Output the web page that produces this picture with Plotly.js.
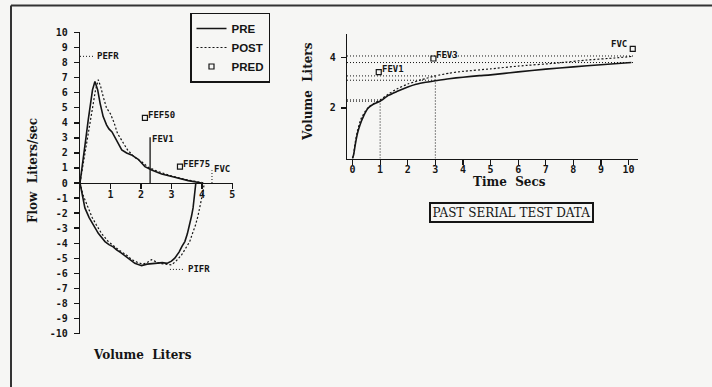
<!DOCTYPE html>
<html><head><meta charset="utf-8">
<script src="https://cdn.plot.ly/plotly-3.0.1.min.js"></script>
<style>html,body{margin:0;padding:0;background:#f6f6f4}#chart{width:712px;height:387px}</style>
</head><body><div id="chart"></div>
<script>
// ---------- Flow-volume loop (Volume L, Flow L/s) ----------
const preExpVol   = [0,0.05,0.13,0.2,0.27,0.34,0.41,0.49,0.58,0.66,0.76,0.87,0.95,1.05,1.13,1.2,1.37,1.53,1.69,1.91,2.13,2.35,2.68,3.11,3.55,3.99];
const preExpFlow  = [0,0.87,1.98,3.09,4.2,5.3,6.2,6.76,6.2,5.3,4.42,3.87,3.6,3.4,3.09,2.76,2.2,2.0,1.87,1.58,1.09,0.87,0.6,0.38,0.16,0];
const preInspVol  = [0,0.05,0.16,0.3,0.43,0.6,0.82,0.95,1.09,1.2,1.35,1.48,1.65,1.8,2.02,2.2,2.46,2.7,2.85,3.0,3.11,3.25,3.35,3.44,3.52,3.6,3.66,3.71,3.75,3.79,3.8];
const preInspFlow = [0,-0.6,-1.66,-2.3,-2.8,-3.35,-3.9,-4.1,-4.25,-4.45,-4.65,-4.85,-5.1,-5.35,-5.5,-5.4,-5.35,-5.3,-5.35,-5.2,-5.0,-4.6,-4.2,-3.9,-3.4,-2.8,-2.2,-1.66,-1.0,-0.1,0];
const postExpVol   = [0,0.07,0.16,0.25,0.35,0.44,0.51,0.6,0.68,0.76,0.87,1.0,1.12,1.23,1.4,1.56,1.8,2.02,2.24,2.57,3.0,3.44,3.88,4.1];
const postExpFlow  = [0,0.87,1.98,3.09,4.2,5.3,6.2,6.87,6.4,5.75,5.0,4.6,4.0,3.3,2.75,2.2,1.7,1.42,1.04,0.76,0.47,0.24,0.07,0];
const postInspVol  = [0,0.1,0.27,0.4,0.54,0.72,0.93,1.1,1.3,1.53,1.7,1.9,2.05,2.2,2.35,2.45,2.6,2.8,3.0,3.15,3.33,3.45,3.6,3.7,3.79,3.87,3.93,3.98,4.04,4.07,4.08];
const postInspFlow = [0,-0.8,-1.66,-2.3,-2.8,-3.4,-3.9,-4.2,-4.5,-4.8,-5.1,-5.3,-5.4,-5.3,-5.1,-5.2,-5.35,-5.4,-5.45,-5.2,-4.8,-4.4,-3.9,-3.3,-2.8,-2.2,-1.66,-1.1,-0.55,-0.1,0];
// predicted / measured reference points on the loop
const predLoopVol  = [2.13, 3.28];          // FEF50, FEF75 predicted
const predLoopFlow = [4.33, 1.09];
const pefrPred = 8.43, pefrVolEnd = 0.45;
const pifrPred = -5.75, pifrVol = [2.95, 3.44];
const fvcPredVol = 4.33, fvcPredFlow = 0.85;
const fev1Vol = 2.3, fev1Flow = 3.05;
const loopFlowTicks = [10,9,8,7,6,5,4,3,2,1,0,-1,-2,-3,-4,-5,-6,-7,-8,-9,-10];
const loopFlowTickText = ['10','9','8','7','6','5','4','3','2','1','0','-1','-2','-3','-4','-5','-6','-7','-8','-9','-10'];
const loopVolTicks = [1,2,3,4,5];

// ---------- Volume-time curve (Time s, Volume L) ----------
const preTime  = [0,0.04,0.1,0.18,0.27,0.4,0.56,0.75,1.0,1.3,1.6,2.0,2.3,2.6,3.0,3.5,4.0,4.6,5.0,6.0,7.0,8.0,9.0,10.1];
const preVol   = [0,0.15,0.55,1.0,1.33,1.68,1.99,2.15,2.27,2.5,2.65,2.83,2.94,3.01,3.08,3.16,3.22,3.28,3.31,3.43,3.54,3.63,3.71,3.8];
const postTime = [0,0.04,0.1,0.18,0.3,0.45,0.6,0.8,1.0,1.3,1.6,2.0,2.5,3.0,3.5,4.0,5.0,6.0,7.4,8.5,9.5,10.1];
const postVol  = [0,0.2,0.65,1.1,1.55,1.85,2.05,2.2,2.32,2.55,2.75,2.95,3.12,3.27,3.38,3.45,3.55,3.66,3.78,3.9,3.98,4.04];
const fvcPre = 3.8, fvcPost = 4.06, fvcLineEnd = 10.2;
const fev3Pre = 3.1, fev3Post = 3.27;
const fev1Pre = 2.27, fev1Post = 2.32;
const predTime = [0.95, 2.93, 10.15];       // FEV1, FEV3, FVC predicted
const predVol  = [3.42, 3.96, 4.34];
const timeTicks = [0,1,2,3,4,5,6,7,8,9,10];
const volTicks = [2,4];

const K = '#151515';
const mono = "'Liberation Mono','DejaVu Sans Mono',monospace";
const serif = "'DejaVu Serif','Liberation Serif',serif";
const tickMono = "'DejaVu Sans Mono',monospace";
const preLine = {color:K, width:1.6};
const postLine = {color:K, width:1.2, dash:'2px,2px'};
const preLineS = {color:K, width:1.6, shape:'spline', smoothing:0.5};
const postLineS = {color:K, width:1.2, dash:'2px,2px', shape:'spline', smoothing:0.5};
const refDot = {color:K, width:1, dash:'1px,2px'};

function ln(x, y, line, xa, ya) {
  return {x:x, y:y, mode:'lines', line:line, xaxis:xa, yaxis:ya, showlegend:false, hoverinfo:'skip'};
}

const traces = [
  {x:preExpVol, y:preExpFlow, mode:'lines', name:'PRE', legendgroup:'pre', line:preLine, xaxis:'x', yaxis:'y'},
  {x:postExpVol, y:postExpFlow, mode:'lines', name:'POST', legendgroup:'post', line:postLine, xaxis:'x', yaxis:'y'},
  {x:predLoopVol, y:predLoopFlow, mode:'markers', name:'PRED', legendgroup:'pred',
   marker:{symbol:'square-open', size:5, color:K, line:{width:1.2, color:K}}, xaxis:'x', yaxis:'y'},
  ln(preInspVol, preInspFlow, preLine, 'x', 'y'),
  ln(postInspVol, postInspFlow, postLine, 'x', 'y'),
  ln([0, pefrVolEnd], [pefrPred, pefrPred], refDot, 'x', 'y'),
  ln(pifrVol, [pifrPred, pifrPred], refDot, 'x', 'y'),
  ln([fvcPredVol, fvcPredVol], [0, fvcPredFlow], refDot, 'x', 'y'),
  ln([fev1Vol, fev1Vol], [0, fev1Flow], {color:K, width:1.3}, 'x', 'y'),
  // volume-time
  ln(preTime, preVol, preLineS, 'x2', 'y2'),
  ln(postTime, postVol, postLineS, 'x2', 'y2'),
  ln([-0.2, fvcLineEnd], [fvcPre, fvcPre], refDot, 'x2', 'y2'),
  ln([-0.2, fvcLineEnd], [fvcPost, fvcPost], refDot, 'x2', 'y2'),
  ln([-0.2, 3], [fev3Pre, fev3Pre], refDot, 'x2', 'y2'),
  ln([-0.2, 3], [fev3Post, fev3Post], refDot, 'x2', 'y2'),
  ln([-0.2, 1], [fev1Pre, fev1Pre], refDot, 'x2', 'y2'),
  ln([-0.2, 1], [fev1Post, fev1Post], refDot, 'x2', 'y2'),
  ln([1, 1], [0, fev1Post], refDot, 'x2', 'y2'),
  ln([3, 3], [0, fev3Post], refDot, 'x2', 'y2'),
  {x:predTime, y:predVol, mode:'markers', legendgroup:'pred', showlegend:false,
   marker:{symbol:'square-open', size:5, color:K, line:{width:1.2, color:K}}, xaxis:'x2', yaxis:'y2'}
];

const tickFont = {family:tickMono, size:10, color:K, weight:700};
const lblFont = {family:tickMono, size:9, color:K, weight:700};
const titleFont = {family:serif, size:12, color:K, weight:700};

const ax = {showgrid:false, zeroline:false, showline:true, linecolor:K, linewidth:1.3,
            ticks:'outside', ticklen:5, tickwidth:1.2, tickcolor:K, tickfont:tickFont, fixedrange:true};

function lbl(text, x, y, xref, yref, xa, ya, xs, ys) {
  return {text:text, x:x, y:y, xref:xref, yref:yref, xanchor:xa, yanchor:ya, showarrow:false, font:lblFont, xshift:xs, yshift:ys};
}
function ttl(text, px, py, angle) {
  return {text:text, x:px/712, y:1-py/387, xref:'paper', yref:'paper', xanchor:'center', yanchor:'middle',
          textangle:angle, showarrow:false, font:titleFont};
}

const annotations = [
  lbl('PEFR', pefrVolEnd, pefrPred, 'x', 'y', 'left', 'middle', 1, 0),
  lbl('FEF50', predLoopVol[0], predLoopFlow[0], 'x', 'y', 'left', 'bottom', 1, -4),
  lbl('FEV1', fev1Vol, fev1Flow, 'x', 'y', 'left', 'middle', 0, -2),
  lbl('FEF75', predLoopVol[1], predLoopFlow[1], 'x', 'y', 'left', 'bottom', 1, -4),
  lbl('FVC', fvcPredVol, fvcPredFlow, 'x', 'y', 'left', 'middle', 0, 1),
  lbl('PIFR', pifrVol[1], pifrPred, 'x', 'y', 'left', 'middle', 1, 0),
  lbl('FEV1', predTime[0], predVol[0], 'x2', 'y2', 'left', 'bottom', 1, -4),
  lbl('FEV3', predTime[1], predVol[1], 'x2', 'y2', 'left', 'bottom', 1, -4),
  lbl('FVC', predTime[2], predVol[2], 'x2', 'y2', 'right', 'bottom', -4, -2),
  ttl('Flow\u00a0 Liters/sec', 33, 171, -90),
  ttl('Volume\u00a0 Liters', 142, 355, 0),
  ttl('Volume\u00a0 Liters', 308, 92, -90),
  ttl('Time\u00a0 Secs', 509, 182, 0),
  {text:'PAST SERIAL TEST DATA', x:511.5/712, y:1-212/387, xref:'paper', yref:'paper', xanchor:'center', yanchor:'middle',
   showarrow:false, font:{family:serif, size:12, color:K, weight:400},
   bordercolor:K, borderwidth:2, borderpad:1.5, bgcolor:'rgba(0,0,0,0)'}
];

const layout = {
  width:712, height:387, margin:{l:0, r:0, t:0, b:0},
  paper_bgcolor:'#f6f6f4', plot_bgcolor:'rgba(0,0,0,0)',
  showlegend:true,
  legend:{x:190/712, y:1-12.5/387, xanchor:'left', yanchor:'top', bgcolor:'rgba(0,0,0,0)',
          bordercolor:K, borderwidth:1.5, font:{family:"'Liberation Sans',Arial,sans-serif", size:11.5, color:K, weight:700},
          tracegroupgap:0},
  xaxis:Object.assign({}, ax, {domain:[80/712, 233/712], range:[0, 5.02], anchor:'free', position:(0.13695+0.91731)/2,
          tickvals:loopVolTicks, ticktext:loopVolTicks.map(String), ticklabelstandoff:-3}),
  yaxis:Object.assign({}, ax, {domain:[0.13695, 0.91731], range:[-10.05, 10.05], anchor:'x',
          tickvals:loopFlowTicks, ticktext:loopFlowTickText, ticklabelstandoff:4}),
  xaxis2:Object.assign({}, ax, {domain:[347/712, 638/712], range:[-0.2, 10.34], anchor:'y2',
          tickvals:timeTicks, ticktext:timeTicks.map(String), ticklabelstandoff:-4}),
  yaxis2:Object.assign({}, ax, {domain:[(387-158.5)/387, (387-33.5)/387], range:[0, 4.95], anchor:'x2',
          tickvals:volTicks, ticktext:volTicks.map(String), ticklabelstandoff:3}),
  annotations:annotations,
  shapes:[
    {type:'line', xref:'paper', yref:'paper', x0:11/712, x1:1, y0:1-5.5/387, y1:1-5.5/387, line:{color:'#333', width:2}},
    {type:'line', xref:'paper', yref:'paper', x0:11/712, x1:11/712, y0:0, y1:1-5.5/387, line:{color:'#333', width:2}}
  ]
};

Plotly.newPlot('chart', traces, layout, {staticPlot:true, displayModeBar:false});
</script></body></html>
